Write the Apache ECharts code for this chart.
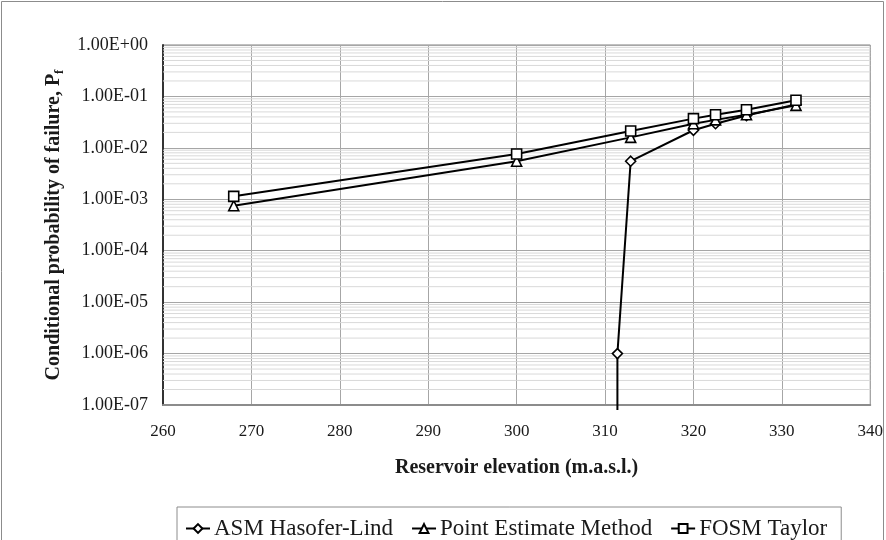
<!DOCTYPE html>
<html>
<head>
<meta charset="utf-8">
<script src="https://cdn.jsdelivr.net/npm/echarts@6/dist/echarts.min.js"></script>
<style>
  html, body { margin: 0; padding: 0; background: #fff; }
  #chart { width: 886px; height: 540px; }
</style>
</head>
<body>
<div id="chart"></div>
<script>
// reservoir elevation (m.a.s.l.) and failure probability per method
var asmX  = [311.4, 311.4, 312.9, 320, 322.5, 326, 331.6];
var asmPf = [8e-8, 1.0e-6, 5.5e-3, 2.2e-2, 2.95e-2, 4.25e-2, 7.0e-2];

var pemX  = [268, 300, 312.9, 320, 322.5, 326, 331.6];
var pemPf = [7.5e-4, 5.5e-3, 1.6e-2, 2.95e-2, 3.5e-2, 4.4e-2, 6.7e-2];

var fosmX  = [268, 300, 312.9, 320, 322.5, 326, 331.6];
var fosmPf = [1.14e-3, 7.6e-3, 2.12e-2, 3.7e-2, 4.4e-2, 5.5e-2, 8.4e-2];

var seriesNames = ['ASM Hasofer-Lind', 'Point Estimate Method', 'FOSM Taylor'];
var xMin = 260, xMax = 340;
var yMin = 1e-7, yMax = 1;

var font = '"Liberation Serif", "DejaVu Serif", serif';

function pairs(xs, ys) {
    return xs.map(function (x, i) {
        var item = { value: [x, ys[i]] };
        // points below the axis range only carry the line, no marker
        if (ys[i] < yMin) item.symbol = 'none';
        return item;
    });
}

function sci(v) {
    var e = Math.round(Math.log10(v));
    var m = v / Math.pow(10, e);
    var s = e < 0 ? '-' : '+';
    var a = Math.abs(e);
    return m.toFixed(2) + 'E' + s + (a < 10 ? '0' + a : a);
}

// minor log grid lines (2..9 in each decade)
var minorTicks = [];
for (var e = -7; e < 0; e++) {
    for (var k = 2; k <= 9; k++) {
        minorTicks.push([xMin, k * Math.pow(10, e)]);
    }
}

function lineSeries(name, symbol, size, data, clip) {
    return {
        name: name,
        type: 'line',
        data: data,
        symbol: symbol,
        symbolSize: size,
        clip: clip,
        z: 3,
        lineStyle: { color: '#000', width: 2 },
        itemStyle: { color: '#fff', borderColor: '#000', borderWidth: 1.6 },
        emphasis: { disabled: true }
    };
}

var myChart = echarts.init(document.getElementById('chart'));
var option = {
    animation: false,
    backgroundColor: '#fff',
    textStyle: { fontFamily: font },
    graphic: [{
        type: 'rect',
        shape: { x: 1.5, y: 1.5, width: 882, height: 560 },
        style: { fill: 'none', stroke: '#8c8c8c', lineWidth: 1 },
        silent: true,
        z: -1
    }],
    grid: {
        left: 163, right: 14, top: 45, bottom: 135,
        show: true, borderColor: '#808080', borderWidth: 1
    },
    legend: {
        data: seriesNames,
        left: 177, top: 507,
        padding: [10, 14, 40, 8],
        itemGap: 18,
        itemWidth: 24, itemHeight: 11,
        borderColor: '#8c8c8c', borderWidth: 1,
        textStyle: { fontFamily: font, fontSize: 23, color: '#1a1a1a', padding: [0, 0, 0, -1] }
    },
    xAxis: {
        type: 'value',
        min: xMin, max: xMax, interval: 10,
        name: 'Reservoir elevation (m.a.s.l.)',
        nameLocation: 'middle',
        nameGap: 53,
        nameTextStyle: { fontFamily: font, fontSize: 20, fontWeight: 'bold', color: '#1a1a1a' },
        axisLine: { lineStyle: { color: '#8c8c8c', width: 2 } },
        axisTick: { show: false },
        axisLabel: { margin: 18, fontFamily: font, fontSize: 17, color: '#1a1a1a' },
        splitLine: { show: true, lineStyle: { color: '#a6a6a6', width: 1 } }
    },
    yAxis: {
        type: 'log',
        logBase: 10,
        min: yMin, max: yMax, interval: 1,
        name: '{a|Conditional probability of failure, P}{s|f}',
        nameLocation: 'middle',
        nameRotate: 90,
        nameGap: 95,
        nameTextStyle: {
            rich: {
                a: { fontFamily: font, fontSize: 20, fontWeight: 'bold', color: '#1a1a1a', lineHeight: 26, verticalAlign: 'middle' },
                s: { fontFamily: font, fontSize: 13, fontWeight: 'bold', color: '#1a1a1a', lineHeight: 26, verticalAlign: 'bottom' }
            }
        },
        axisLine: { show: true, lineStyle: { color: '#333', width: 2 } },
        axisTick: { show: false },
        axisLabel: { margin: 15, fontFamily: font, fontSize: 18, color: '#1a1a1a', formatter: sci },
        splitLine: { show: true, lineStyle: { color: '#a6a6a6', width: 1 } }
    },
    series: [
        {
            name: 'minor-grid',
            type: 'custom',
            data: minorTicks,
            z: 1,
            silent: true,
            clip: true,
            renderItem: function (params, api) {
                var v = api.value(1);
                var p1 = api.coord([xMin, v]);
                var p2 = api.coord([xMax, v]);
                return {
                    type: 'line',
                    shape: { x1: p1[0], y1: p1[1], x2: p2[0], y2: p2[1] },
                    style: { stroke: '#d9d9d9', lineWidth: 1 }
                };
            }
        },
        lineSeries(seriesNames[0], 'diamond', 10, pairs(asmX, asmPf), false),
        lineSeries(seriesNames[1], 'triangle', 10, pairs(pemX, pemPf), true),
        lineSeries(seriesNames[2], 'rect', 10, pairs(fosmX, fosmPf), true)
    ]
};
myChart.setOption(option);
</script>
</body>
</html>
